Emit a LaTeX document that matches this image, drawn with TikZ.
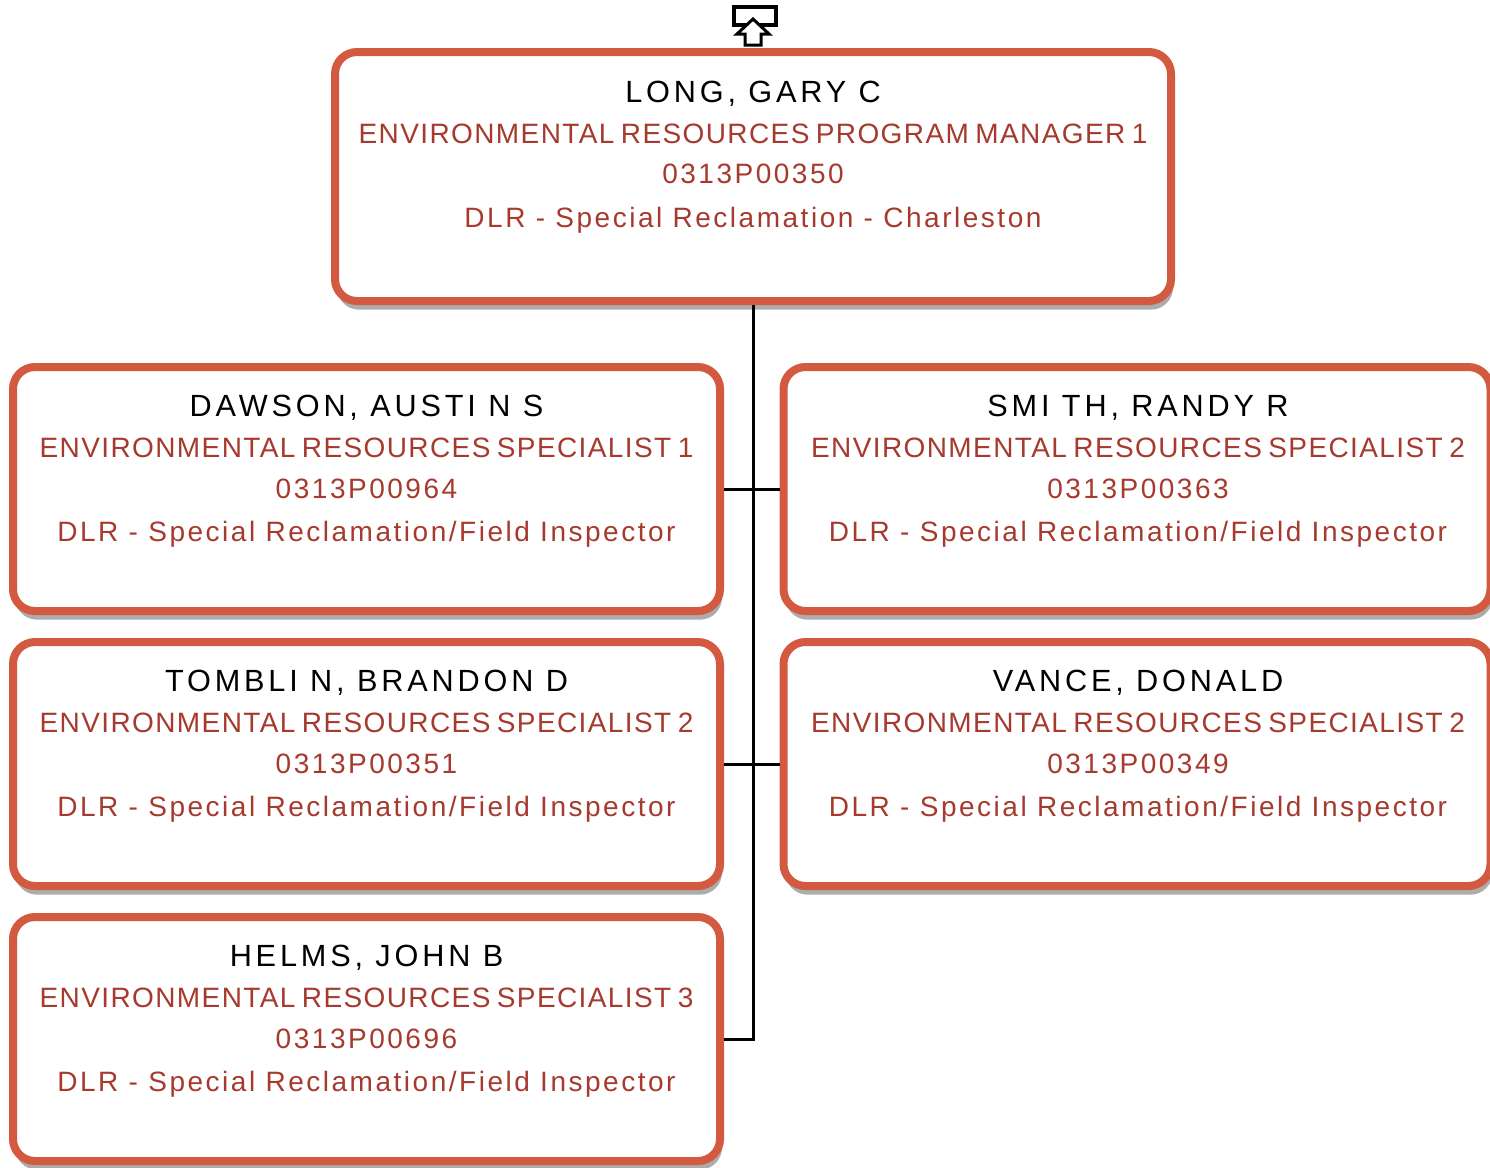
\documentclass[tikz,border=0pt]{standalone}
\usepackage{fontspec}
\setmainfont{Liberation Sans}
\newfontfamily\namefont[LetterSpace=12.5]{Liberation Sans}
\newfontfamily\titlefont[LetterSpace=5,WordSpace=0.7]{Liberation Sans}
\newfontfamily\infofont[LetterSpace=9]{Liberation Sans}
\usetikzlibrary{shadows}

\definecolor{cardred}{RGB}{211,90,64}
\definecolor{inkred}{RGB}{166,58,46}
\definecolor{cardshade}{RGB}{172,172,172}

\tikzset{every picture/.style={line width=0.75pt}}
\tikzset{
  card/.style={draw=cardred, line width=6pt, fill=white, rounded corners=16.5pt,
    drop shadow={shadow xshift=1.5pt, shadow yshift=-6.5pt, fill=cardshade, opacity=1}},
  bigcard/.style={card, minimum width=627pt, minimum height=186.75pt},
  smallcard/.style={card, minimum width=530.25pt, minimum height=183pt},
  nametext/.style={anchor=base, inner sep=0pt, font=\namefont\fontsize{23}{27}\selectfont},
  titletext/.style={anchor=base, inner sep=0pt, text=inkred, font=\titlefont\fontsize{21}{25}\selectfont},
  infotext/.style={anchor=base, inner sep=0pt, text=inkred, font=\infofont\fontsize{21}{25}\selectfont},
  orgline/.style={line width=2.25pt, black}
}

\begin{document}
\begin{tikzpicture}[x=0.75pt,y=0.75pt,yscale=-1,xscale=1]
    \useasboundingbox (0,0) rectangle (1490,1168);

    %Shape: go-up icon
    \draw [line width=3pt] (733.7,7) rectangle (775.7,24.7);
    \draw [line width=2.25pt, fill=white] (753,19) -- (737,34) -- (745,34) -- (745,45) -- (761,45) -- (761,34) -- (769,34) -- cycle;

    %Boxes
    \node [bigcard] (long) at (753,176.5) {};
    \node [smallcard] (dawson) at (366.5,489) {};
    \node [smallcard] (smith) at (1137,489) {};
    \node [smallcard] (tomblin) at (366.5,764) {};
    \node [smallcard] (vance) at (1137,764) {};
    \node [smallcard] (helms) at (366.5,1039) {};

    %Connectors
    \draw [orgline] (long.south) |- (helms.east);
    \draw [orgline] (dawson.east) -- (smith.west);
    \draw [orgline] (tomblin.east) -- (vance.west);

    % Text Node
    \node [nametext] (longname) at (753,102) {LONG, GARY C};
    \node [titletext] (longtitle) at (753,143) {ENVIRONMENTAL RESOURCES PROGRAM MANAGER 1};
    \node [infotext] (longnum) at (753,183) {0313P00350};
    \node [infotext] (longdept) at (753,227) {DLR - Special Reclamation - Charleston};
    % Text Node
    \node [nametext] (dawsonname) at (366.5,416) {DAWSON, AUSTI N S};
    \node [titletext] (dawsontitle) at (366.5,457) {ENVIRONMENTAL RESOURCES SPECIALIST 1};
    \node [infotext] (dawsonnum) at (366.5,498) {0313P00964};
    \node [infotext] (dawsondept) at (366.5,541) {DLR - Special Reclamation/Field Inspector};
    % Text Node
    \node [nametext] (smithname) at (1138,416) {SMI TH, RANDY R};
    \node [titletext] (smithtitle) at (1138,457) {ENVIRONMENTAL RESOURCES SPECIALIST 2};
    \node [infotext] (smithnum) at (1138,498) {0313P00363};
    \node [infotext] (smithdept) at (1138,541) {DLR - Special Reclamation/Field Inspector};
    % Text Node
    \node [nametext] (tomblinname) at (366.5,691) {TOMBLI N, BRANDON D};
    \node [titletext] (tomblintitle) at (366.5,732) {ENVIRONMENTAL RESOURCES SPECIALIST 2};
    \node [infotext] (tomblinnum) at (366.5,773) {0313P00351};
    \node [infotext] (tomblindept) at (366.5,816) {DLR - Special Reclamation/Field Inspector};
    % Text Node
    \node [nametext] (vancename) at (1138,691) {VANCE, DONALD};
    \node [titletext] (vancetitle) at (1138,732) {ENVIRONMENTAL RESOURCES SPECIALIST 2};
    \node [infotext] (vancenum) at (1138,773) {0313P00349};
    \node [infotext] (vancedept) at (1138,816) {DLR - Special Reclamation/Field Inspector};
    % Text Node
    \node [nametext] (helmsname) at (366.5,966) {HELMS, JOHN B};
    \node [titletext] (helmstitle) at (366.5,1007) {ENVIRONMENTAL RESOURCES SPECIALIST 3};
    \node [infotext] (helmsnum) at (366.5,1048) {0313P00696};
    \node [infotext] (helmsdept) at (366.5,1091) {DLR - Special Reclamation/Field Inspector};

\end{tikzpicture}
\end{document}
